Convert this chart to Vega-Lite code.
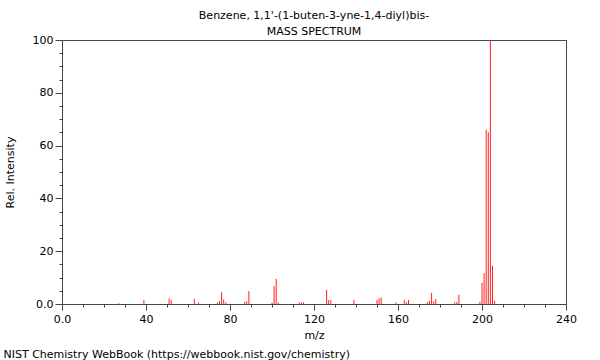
{
  "$schema": "https://vega.github.io/schema/vega-lite/v6.json",
  "width": 504,
  "height": 264,
  "autosize": "none",
  "padding": {"left": 62, "top": 40, "right": 34, "bottom": 56},
  "background": "#ffffff",
  "config": {
    "font": "DejaVu Sans",
    "view": {"stroke": "#444444", "strokeWidth": 1},
    "axis": {
      "labelFont": "DejaVu Sans",
      "titleFont": "DejaVu Sans",
      "labelFontSize": 11,
      "titleFontSize": 11,
      "titleFontWeight": "normal",
      "labelColor": "#000000",
      "titleColor": "#000000",
      "domainColor": "#444444",
      "tickColor": "#444444",
      "grid": false
    }
  },
  "title": {
    "text": ["Benzene, 1,1'-(1-buten-3-yne-1,4-diyl)bis-", "MASS SPECTRUM"],
    "anchor": "middle",
    "frame": "group",
    "font": "DejaVu Sans",
    "fontSize": 11,
    "fontWeight": "normal",
    "color": "#000000",
    "lineHeight": 16,
    "offset": -3
  },
  "data": {
    "values": [
      {"mz": 27, "intensity": 0.3},
      {"mz": 39, "intensity": 1.5},
      {"mz": 51, "intensity": 2.1},
      {"mz": 52, "intensity": 1.5},
      {"mz": 63, "intensity": 1.9},
      {"mz": 65, "intensity": 0.6},
      {"mz": 74, "intensity": 0.5},
      {"mz": 75, "intensity": 1.1},
      {"mz": 76, "intensity": 4.5},
      {"mz": 77, "intensity": 1.7},
      {"mz": 78, "intensity": 0.6},
      {"mz": 87, "intensity": 0.8},
      {"mz": 88, "intensity": 1.0},
      {"mz": 89, "intensity": 4.9},
      {"mz": 100, "intensity": 0.5},
      {"mz": 101, "intensity": 6.8},
      {"mz": 102, "intensity": 9.5},
      {"mz": 103, "intensity": 0.6},
      {"mz": 113, "intensity": 0.6},
      {"mz": 114, "intensity": 0.6},
      {"mz": 115, "intensity": 0.6},
      {"mz": 126, "intensity": 5.3},
      {"mz": 127, "intensity": 1.5},
      {"mz": 128, "intensity": 1.4},
      {"mz": 139, "intensity": 1.5},
      {"mz": 150, "intensity": 1.5},
      {"mz": 151, "intensity": 2.1},
      {"mz": 152, "intensity": 2.5},
      {"mz": 159, "intensity": 0.6},
      {"mz": 163, "intensity": 1.5},
      {"mz": 164, "intensity": 0.7},
      {"mz": 165, "intensity": 1.5},
      {"mz": 174, "intensity": 0.7},
      {"mz": 175, "intensity": 1.2},
      {"mz": 176, "intensity": 4.2},
      {"mz": 177, "intensity": 1.0},
      {"mz": 178, "intensity": 1.9},
      {"mz": 187, "intensity": 0.6},
      {"mz": 188, "intensity": 0.8},
      {"mz": 189, "intensity": 3.5},
      {"mz": 199, "intensity": 0.8},
      {"mz": 200, "intensity": 8.0},
      {"mz": 201, "intensity": 11.7},
      {"mz": 202, "intensity": 66},
      {"mz": 203, "intensity": 65},
      {"mz": 204, "intensity": 100},
      {"mz": 205, "intensity": 14.5},
      {"mz": 206, "intensity": 1.2}
    ]
  },
  "layer": [
    {
      "mark": {"type": "rule", "color": "#ff2020", "strokeWidth": 1},
      "encoding": {
        "x": {
          "field": "mz",
          "type": "quantitative",
          "scale": {"domain": [0, 240], "nice": false, "zero": true},
          "axis": {
            "orient": "bottom",
            "values": [0, 40, 80, 120, 160, 200, 240],
            "labelExpr": "datum.value == 0 ? '0.0' : datum.label",
            "tickSize": 6,
            "labelPadding": 3,
            "labelFlush": false,
            "title": "m/z",
            "titlePadding": 5
          }
        },
        "y": {
          "field": "intensity",
          "type": "quantitative",
          "scale": {"domain": [0, 100], "nice": false, "zero": true},
          "axis": {
            "orient": "left",
            "values": [0, 20, 40, 60, 80, 100],
            "labelExpr": "datum.value == 0 ? '0.0' : datum.label",
            "tickSize": 7,
            "labelPadding": 2,
            "labelFlush": false,
            "title": "Rel. Intensity",
            "titlePadding": 17
          }
        },
        "y2": {"datum": 0}
      }
    },
    {
      "mark": {"type": "rule", "opacity": 0},
      "encoding": {
        "x": {
          "field": "mz",
          "type": "quantitative",
          "axis": {
            "orient": "bottom",
            "values": [10, 20, 30, 50, 60, 70, 90, 100, 110, 130, 140, 150, 170, 180, 190, 210, 220, 230],
            "tickSize": 3,
            "labels": false,
            "domain": false,
            "title": "NIST Chemistry WebBook (https://webbook.nist.gov/chemistry)",
            "titleAnchor": "start",
            "titleAlign": "left",
            "titleBaseline": "alphabetic",
            "titleX": -59,
            "titleY": 53
          }
        },
        "y": {
          "field": "intensity",
          "type": "quantitative",
          "axis": {
            "orient": "left",
            "values": [5, 10, 15, 25, 30, 35, 45, 50, 55, 65, 70, 75, 85, 90, 95],
            "tickSize": 3,
            "labels": false,
            "domain": false,
            "title": null
          }
        },
        "y2": {"datum": 0}
      }
    }
  ],
  "resolve": {"axis": {"x": "independent", "y": "independent"}}
}
